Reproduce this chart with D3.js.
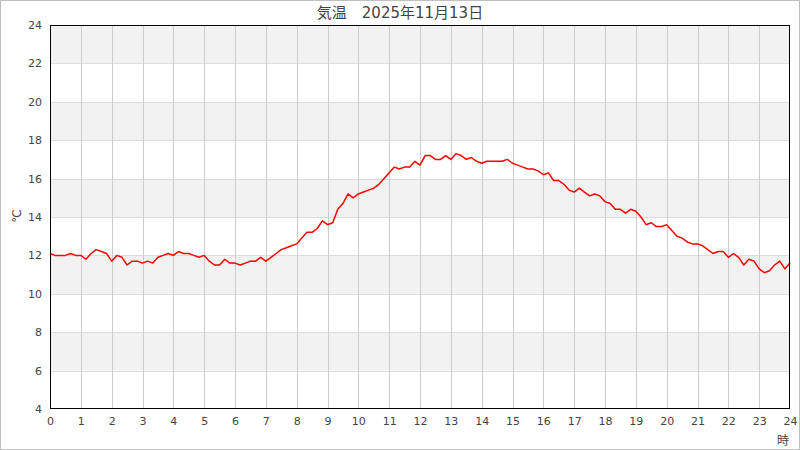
<!DOCTYPE html>
<html><head><meta charset="utf-8">
<script src="https://cdn.jsdelivr.net/npm/d3@7/dist/d3.min.js"></script>
<style>body{margin:0;background:#fff}svg{display:block}</style>
</head><body>
<script>
const title = "気温　2025年11月13日";
const yLabel = "℃";
const xLabel = "時";
const hourTicks = d3.range(0, 25);
const tempTicks = [4, 6, 8, 10, 12, 14, 16, 18, 20, 22, 24];
const stepMinutes = 10;
// 10-minute temperatures, 0:00 .. 24:00
const temps = [
12.1,12.0,12.0,12.0,12.1,12.0,
12.0,11.8,12.1,12.3,12.2,12.1,
11.7,12.0,11.9,11.5,11.7,11.7,
11.6,11.7,11.6,11.9,12.0,12.1,
12.0,12.2,12.1,12.1,12.0,11.9,
12.0,11.7,11.5,11.5,11.8,11.6,
11.6,11.5,11.6,11.7,11.7,11.9,
11.7,11.9,12.1,12.3,12.4,12.5,
12.6,12.9,13.2,13.2,13.4,13.8,
13.6,13.7,14.4,14.7,15.2,15.0,
15.2,15.3,15.4,15.5,15.7,16.0,
16.3,16.6,16.5,16.6,16.6,16.9,
16.7,17.2,17.2,17.0,17.0,17.2,
17.0,17.3,17.2,17.0,17.1,16.9,
16.8,16.9,16.9,16.9,16.9,17.0,
16.8,16.7,16.6,16.5,16.5,16.4,
16.2,16.3,15.9,15.9,15.7,15.4,
15.3,15.5,15.3,15.1,15.2,15.1,
14.8,14.7,14.4,14.4,14.2,14.4,
14.3,14.0,13.6,13.7,13.5,13.5,
13.6,13.3,13.0,12.9,12.7,12.6,
12.6,12.5,12.3,12.1,12.2,12.2,
11.9,12.1,11.9,11.5,11.8,11.7,
11.3,11.1,11.2,11.5,11.7,11.3,
11.6
];

const W = 800, H = 450;
const m = {l: 50, r: 10, t: 25, b: 41};
const svg = d3.select("body").append("svg").attr("width", W).attr("height", H);
const fontFam = "'DejaVu Sans', 'Noto Sans CJK JP', sans-serif";

svg.append("rect").attr("x", 0.5).attr("y", 0.5).attr("width", W - 1).attr("height", H - 1)
  .attr("fill", "#fff").attr("stroke", "#c0c0c0");

const x = d3.scaleLinear().domain([0, 24]).range([m.l, W - m.r]);
const y = d3.scaleLinear().domain([4, 24]).range([H - m.b, m.t]);

// bands
const bands = [];
for (let i = 0; i < tempTicks.length - 1; i++) bands.push([tempTicks[i], tempTicks[i + 1], i]);
svg.append("g").selectAll("rect").data(bands).join("rect")
  .attr("x", x(0)).attr("width", x(24) - x(0))
  .attr("y", d => y(d[1])).attr("height", d => y(d[0]) - y(d[1]))
  .attr("fill", d => d[2] % 2 === 1 ? "#f2f2f2" : "#ffffff");

// horizontal grid
svg.append("g").selectAll("line").data(tempTicks.slice(1, -1)).join("line")
  .attr("x1", x(0)).attr("x2", x(24))
  .attr("y1", d => Math.round(y(d)) + 0.5).attr("y2", d => Math.round(y(d)) + 0.5)
  .attr("stroke", "#dddddd");

// vertical grid
svg.append("g").selectAll("line").data(hourTicks.slice(1, -1)).join("line")
  .attr("y1", y(24)).attr("y2", y(4))
  .attr("x1", d => Math.round(x(d)) + 0.5).attr("x2", d => Math.round(x(d)) + 0.5)
  .attr("stroke", "#cccccc");

// line
const line = d3.line().x((d, i) => x(i * stepMinutes / 60)).y(d => y(d));
svg.append("path").datum(temps).attr("d", line)
  .attr("fill", "none").attr("stroke", "#ff0000").attr("stroke-width", 1.5)
  .attr("stroke-linejoin", "round");

// frame
svg.append("rect").attr("x", x(0) + 0.5).attr("y", y(24) + 0.5)
  .attr("width", x(24) - x(0) - 1).attr("height", y(4) - y(24) - 1)
  .attr("fill", "none").attr("stroke", "#000").attr("stroke-width", 1);

// axes
const xAxis = d3.axisBottom(x).tickValues(hourTicks).tickSize(0).tickPadding(8).tickFormat(d3.format("d"));
const gx = svg.append("g").attr("transform", `translate(0,${y(4)})`).call(xAxis);
gx.select(".domain").remove();
gx.selectAll("text").attr("fill", "#444").style("font-size", "11px").style("font-family", fontFam);

const yAxis = d3.axisLeft(y).tickValues(tempTicks).tickSize(0).tickPadding(8).tickFormat(d3.format("d"));
const gy = svg.append("g").attr("transform", `translate(${x(0)},0)`).call(yAxis);
gy.select(".domain").remove();
gy.selectAll("text").attr("fill", "#444").style("font-size", "11px").style("font-family", fontFam);

// title & labels
svg.append("text").attr("x", 400).attr("y", 18).attr("text-anchor", "middle")
  .attr("fill", "#444").style("font-size", "15px").style("font-family", fontFam).text(title);
svg.append("text").attr("transform", "translate(21,216) rotate(-90)").attr("text-anchor", "middle")
  .attr("fill", "#444").style("font-size", "12px").style("font-family", fontFam).text(yLabel);
svg.append("text").attr("x", 783).attr("y", 445).attr("text-anchor", "middle")
  .attr("fill", "#444").style("font-size", "12px").style("font-family", fontFam).text(xLabel);
</script>
</body></html>
